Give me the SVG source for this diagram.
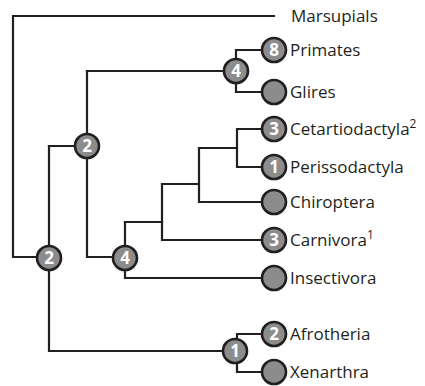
<svg xmlns="http://www.w3.org/2000/svg" width="425" height="386" viewBox="0 0 425 386">
<style>
.ln{fill:none;stroke:#231f20;stroke-width:2.2;stroke-linecap:square;stroke-linejoin:miter}
.nd circle{fill:#8c8c8c;stroke:#231f20;stroke-width:2.6}
.num{font-family:"Open Sans","Liberation Sans",sans-serif;font-weight:bold;font-size:17px;fill:#ffffff;text-anchor:middle}
.lbl{font-family:"Open Sans","Liberation Sans",sans-serif;font-size:17px;fill:#231f20}
.sup{font-size:12px}
</style>
<rect width="425" height="386" fill="#ffffff"/>
<g id="connectors" class="ln">
<path d="M274,16 H13 V257 H49"/>
<path d="M49,146 V351 H235"/>
<path d="M49,146 H87"/>
<path d="M87,71 V257 H125"/>
<path d="M87,71 H236"/>
<path d="M274,50 H236 V92 H274"/>
<path d="M125,222 V278 H274"/>
<path d="M125,222 H162"/>
<path d="M162,184 V240 H274"/>
<path d="M162,184 H199"/>
<path d="M199,148 V202 H274"/>
<path d="M199,148 H237"/>
<path d="M274,129 H237 V167 H274"/>
<path d="M274,334 H237 V372 H274"/>
</g>
<g id="n_root2" class="nd"><circle cx="49" cy="258" r="12"/><text class="num" x="49" y="264">2</text></g>
<g id="n_upper2" class="nd"><circle cx="87" cy="146" r="12"/><text class="num" x="87" y="152">2</text></g>
<g id="n_4a" class="nd"><circle cx="236" cy="71" r="12"/><text class="num" x="236" y="77">4</text></g>
<g id="n_4b" class="nd"><circle cx="125" cy="258" r="12"/><text class="num" x="125" y="264">4</text></g>
<g id="n_1" class="nd"><circle cx="235" cy="351" r="12"/><text class="num" x="235" y="357">1</text></g>
<g id="marsupials"><text class="lbl" x="291" y="22">Marsupials</text></g>
<g id="primates" class="nd"><circle cx="274" cy="50" r="12"/><text class="num" x="274" y="56">8</text><text class="lbl" x="290" y="56">Primates</text></g>
<g id="glires" class="nd"><circle cx="274" cy="92" r="12"/><text class="lbl" x="290" y="98">Glires</text></g>
<g id="cetartiodactyla" class="nd"><circle cx="274" cy="129" r="12"/><text class="num" x="274" y="135">3</text><text class="lbl" x="290" y="135">Cetartiodactyla<tspan class="sup" dy="-7">2</tspan></text></g>
<g id="perissodactyla" class="nd"><circle cx="274" cy="167" r="12"/><text class="num" x="274" y="173">1</text><text class="lbl" x="290" y="173">Perissodactyla</text></g>
<g id="chiroptera" class="nd"><circle cx="274" cy="202" r="12"/><text class="lbl" x="290" y="208">Chiroptera</text></g>
<g id="carnivora" class="nd"><circle cx="274" cy="240" r="12"/><text class="num" x="274" y="246">3</text><text class="lbl" x="290" y="246">Carnivora<tspan class="sup" dy="-7">1</tspan></text></g>
<g id="insectivora" class="nd"><circle cx="274" cy="278" r="12"/><text class="lbl" x="290" y="284">Insectivora</text></g>
<g id="afrotheria" class="nd"><circle cx="274" cy="334" r="12"/><text class="num" x="274" y="340">2</text><text class="lbl" x="290" y="340">Afrotheria</text></g>
<g id="xenarthra" class="nd"><circle cx="274" cy="372" r="12"/><text class="lbl" x="290" y="378">Xenarthra</text></g>
</svg>
